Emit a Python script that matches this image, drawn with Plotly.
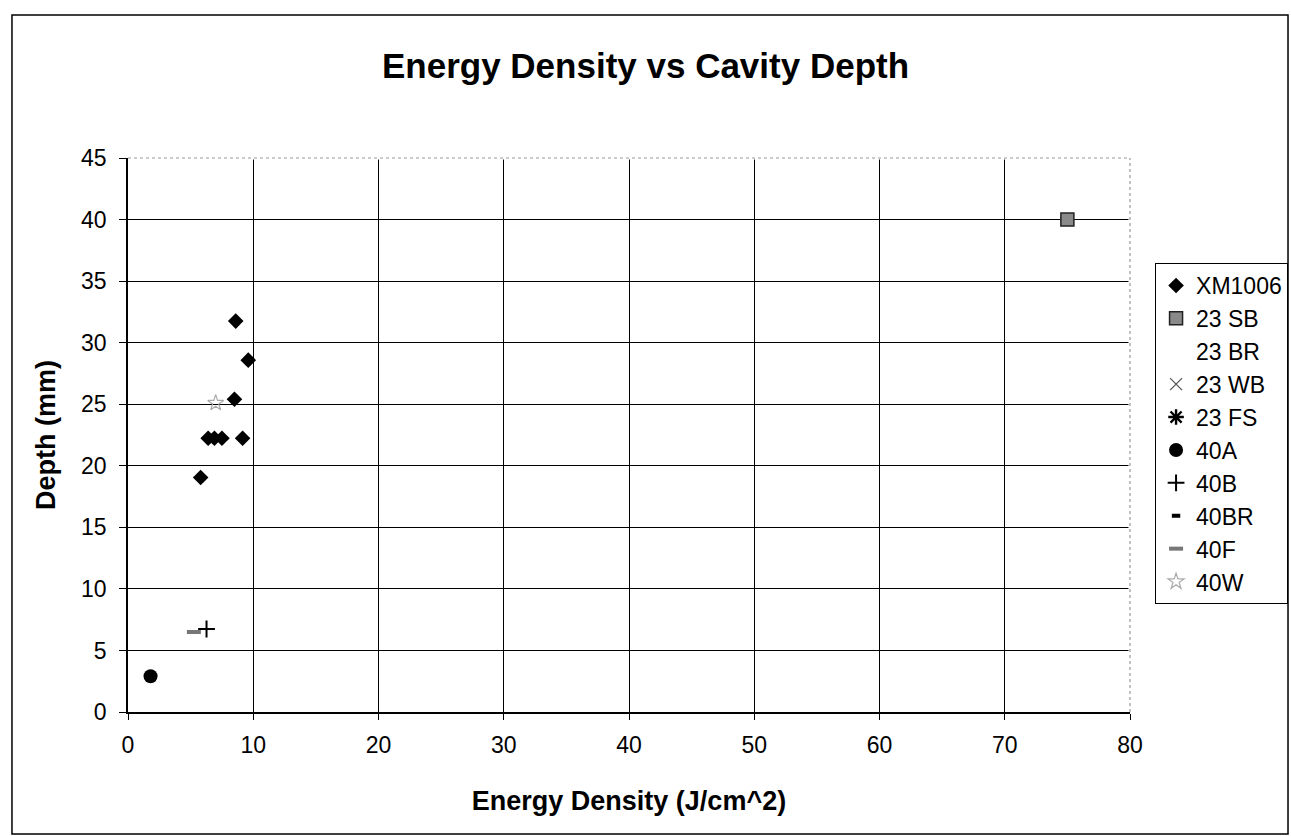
import plotly.graph_objects as go

# ---- data ----
xm1006_x = [8.6, 9.6, 8.5, 6.4, 6.9, 7.5, 9.15, 5.8]
xm1006_y = [31.75, 28.58, 25.4, 22.23, 22.23, 22.23, 22.23, 19.05]

sb23_x = [75.0]
sb23_y = [40.0]

# series listed in the legend but with no visible point
br23_x, br23_y = [None], [None]
wb23_x, wb23_y = [None], [None]
fs23_x, fs23_y = [None], [None]

a40_x = [1.8]
a40_y = [2.9]

b40_x = [6.27]
b40_y = [6.74]

br40_x, br40_y = [None], [None]

f40_x = [5.26]
f40_y = [6.5]

w40_x = [7.0]
w40_y = [25.1]

x_ticks = [0, 10, 20, 30, 40, 50, 60, 70, 80]
y_ticks = [0, 5, 10, 15, 20, 25, 30, 35, 40, 45]

FONT = "Liberation Sans, Arial, sans-serif"

fig = go.Figure()


def add_series(x, y, name, symbol, size, color, line_color=None, line_width=0):
    fig.add_trace(
        go.Scatter(
            x=x,
            y=y,
            name=name,
            mode="markers",
            marker=dict(
                symbol=symbol,
                size=size,
                color=color,
                line=dict(color=line_color or color, width=line_width),
            ),
            showlegend=True,
        )
    )


add_series(xm1006_x, xm1006_y, "XM1006", "diamond", 12, "black")
add_series(sb23_x, sb23_y, "23 SB", "square", 13, "#8a8a8a", "#222222", 1.5)
add_series(br23_x, br23_y, "23 BR", "triangle-up", 10, "rgba(255,255,255,0)")
add_series(wb23_x, wb23_y, "23 WB", "x-thin-open", 12, "#555555", "#555555", 1.3)
add_series(fs23_x, fs23_y, "23 FS", "asterisk-open", 13, "black", "black", 2.4)
add_series(a40_x, a40_y, "40A", "circle", 14, "black")
add_series(b40_x, b40_y, "40B", "cross-thin-open", 12, "black", "black", 2)
add_series(br40_x, br40_y, "40BR", "line-ew-open", 6, "black", "black", 4)
add_series(f40_x, f40_y, "40F", "line-ew-open", 10, "#777777", "#777777", 4)
add_series(w40_x, w40_y, "40W", "star-open", 12, "#aaaaaa", "#aaaaaa", 1.2)

# plot area top/right edge: dotted grey instead of the black gridline
for x0, y0, x1, y1 in [(0, 1, 1, 1), (1, 0, 1, 1)]:
    fig.add_shape(type="line", xref="paper", yref="paper", x0=x0, y0=y0, x1=x1, y1=y1,
                  line=dict(color="white", width=3), layer="above")
    fig.add_shape(type="line", xref="paper", yref="paper", x0=x0, y0=y0, x1=x1, y1=y1,
                  line=dict(color="#999999", width=1.2, dash="dot"), layer="above")

# outer chart frame
fig.add_shape(type="rect", xref="paper", yref="paper",
              x0=-0.1158, y0=-0.2202, x1=1.1577, y1=1.258,
              line=dict(color="black", width=1.5))

fig.update_layout(
    width=1291,
    height=836,
    margin=dict(l=128, r=161, t=158, b=124),
    paper_bgcolor="white",
    plot_bgcolor="white",
    font=dict(family=FONT, color="black"),
    title=dict(
        text="<b>Energy Density vs Cavity Depth</b>",
        x=0.5,
        xanchor="center",
        y=0.921,
        yanchor="middle",
        font=dict(size=35, family=FONT),
    ),
    legend=dict(
        xref="container",
        yref="container",
        x=0.8947,
        y=0.6854,
        xanchor="left",
        yanchor="top",
        bordercolor="black",
        borderwidth=1,
        bgcolor="white",
        font=dict(size=23, family=FONT),
        traceorder="normal",
        itemclick=False,
    ),
    showlegend=True,
    hovermode=False,
)

fig.update_xaxes(
    range=[0, 80],
    tickvals=x_ticks,
    ticks="outside",
    ticklen=6,
    tickcolor="black",
    tickfont=dict(size=23),
    ticklabelstandoff=6,
    showline=True,
    linecolor="black",
    linewidth=1.5,
    showgrid=True,
    gridcolor="black",
    gridwidth=1,
    zeroline=False,
    title=dict(text="<b>Energy Density (J/cm^2)</b>", font=dict(size=27), standoff=34),
)
fig.update_yaxes(
    range=[0, 45],
    tickvals=y_ticks,
    ticks="outside",
    ticklen=7,
    tickcolor="black",
    tickfont=dict(size=23),
    ticklabelstandoff=8,
    showline=True,
    linecolor="black",
    linewidth=1.5,
    showgrid=True,
    gridcolor="black",
    gridwidth=1,
    zeroline=False,
    title=dict(text="<b>Depth (mm)</b>", font=dict(size=27), standoff=18),
)

fig.write_html(
    "out.html",
    config={"displayModeBar": False},
    post_script="document.body.style.margin='0';document.body.style.overflow='hidden';",
)
